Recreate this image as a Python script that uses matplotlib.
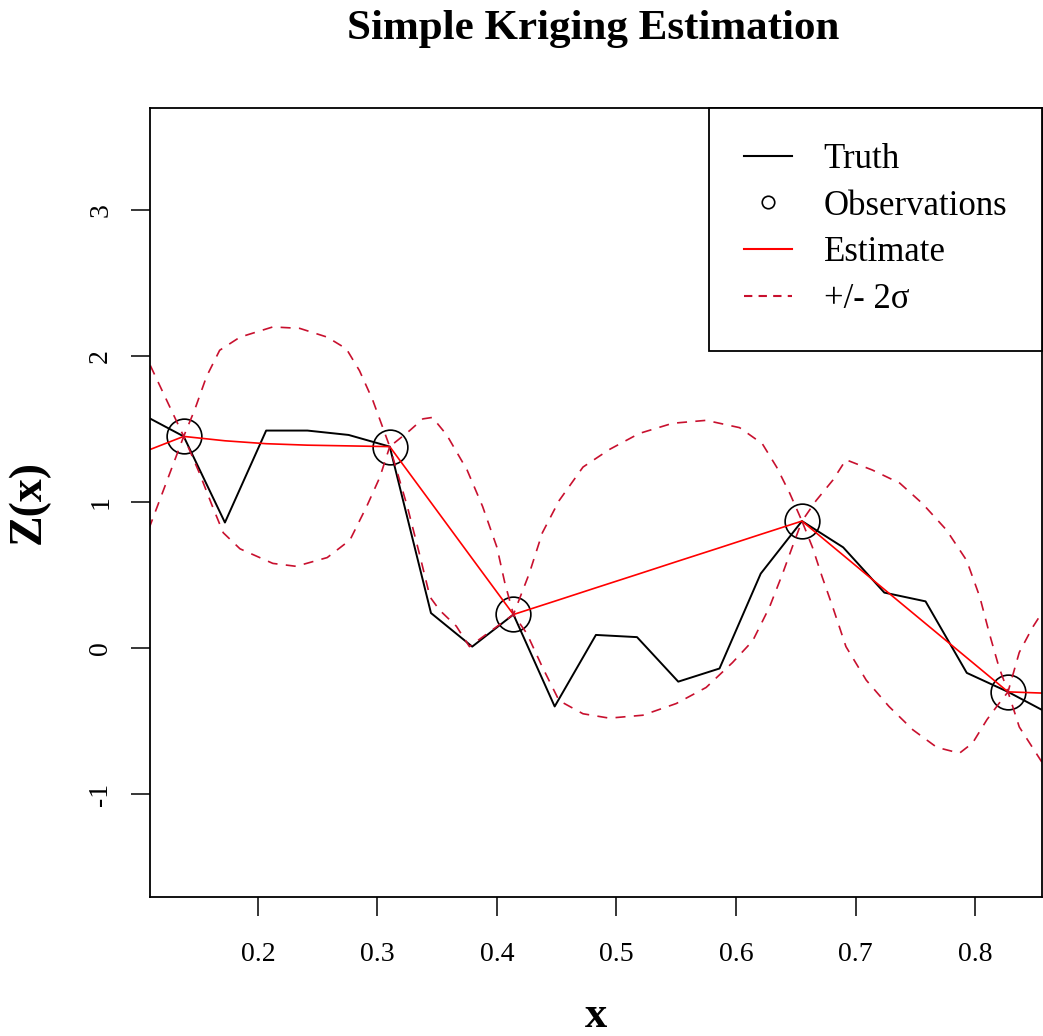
import matplotlib
matplotlib.use("Agg")
import matplotlib.pyplot as plt
from matplotlib.lines import Line2D

plt.rcParams['font.family'] = ['Liberation Serif', 'DejaVu Serif']

# grid where truth and estimate were evaluated
grid_x = [0.1034, 0.1379, 0.1724, 0.2069, 0.2414, 0.2759, 0.3103, 0.3448, 0.3793, 0.4138,
          0.4483, 0.4828, 0.5172, 0.5517, 0.5862, 0.6207, 0.6552, 0.6897, 0.7241, 0.7586,
          0.7931, 0.8276, 0.8621]
truth = [1.60, 1.45, 0.86, 1.49, 1.49, 1.46, 1.38, 0.24, 0.01, 0.23,
         -0.40, 0.09, 0.075, -0.23, -0.14, 0.51, 0.87, 0.69, 0.38, 0.32,
         -0.17, -0.30, -0.45]
estimate = [1.34, 1.45, 1.42, 1.40, 1.39, 1.385, 1.38, 0.997, 0.613, 0.23,
            0.321, 0.413, 0.504, 0.596, 0.687, 0.779, 0.87, 0.636, 0.402, 0.168,
            -0.066, -0.30, -0.31]

# observations
obs_x = [0.1379, 0.3103, 0.4138, 0.6552, 0.8276]
obs_y = [1.45, 1.38, 0.23, 0.87, -0.30]

# estimate +/- 2 sigma
upper_x = [0.1034, 0.1379, 0.147, 0.157, 0.168, 0.185, 0.2125, 0.235, 0.258, 0.274,
           0.285, 0.296, 0.3103, 0.327, 0.338, 0.346, 0.358, 0.375, 0.388, 0.400,
           0.4065, 0.4138, 0.427, 0.438, 0.452, 0.472, 0.494, 0.519, 0.547, 0.575,
           0.603, 0.622, 0.634, 0.645, 0.6552, 0.667, 0.681, 0.692, 0.714, 0.737,
           0.756, 0.776, 0.793, 0.804, 0.812, 0.820, 0.8276, 0.837, 0.848, 0.8621]
upper_y = [2.05, 1.45, 1.63, 1.86, 2.04, 2.13, 2.20, 2.19, 2.13, 2.05,
           1.90, 1.70, 1.38, 1.49, 1.57, 1.58, 1.46, 1.22, 0.97, 0.69,
           0.45, 0.23, 0.51, 0.79, 1.01, 1.24, 1.36, 1.47, 1.54, 1.56,
           1.51, 1.40, 1.24, 1.06, 0.87, 1.01, 1.15, 1.29, 1.22, 1.13,
           0.99, 0.81, 0.60, 0.35, 0.10, -0.13, -0.30, -0.03, 0.14, 0.32]
lower_x = [0.1034, 0.1379, 0.151, 0.162, 0.171, 0.185, 0.2125, 0.232, 0.258, 0.277,
           0.291, 0.302, 0.3103, 0.325, 0.335, 0.344, 0.352, 0.366, 0.377, 0.4138,
           0.425, 0.438, 0.452, 0.472, 0.494, 0.522, 0.550, 0.575, 0.597, 0.614,
           0.628, 0.639, 0.647, 0.6552, 0.664, 0.672, 0.681, 0.692, 0.709, 0.728,
           0.748, 0.768, 0.787, 0.798, 0.810, 0.820, 0.8276, 0.837, 0.848, 0.8621]
lower_y = [0.70, 1.45, 1.20, 0.97, 0.79, 0.68, 0.58, 0.56, 0.62, 0.74,
           0.97, 1.17, 1.38, 0.97, 0.65, 0.35, 0.26, 0.15, 0.01, 0.23,
           0.10, -0.13, -0.36, -0.45, -0.48, -0.46, -0.38, -0.27, -0.10, 0.05,
           0.28, 0.51, 0.69, 0.87, 0.69, 0.49, 0.28, 0.01, -0.22, -0.40,
           -0.56, -0.68, -0.72, -0.65, -0.49, -0.38, -0.30, -0.54, -0.68, -0.86]

x_ticks = [0.2, 0.3, 0.4, 0.5, 0.6, 0.7, 0.8]
y_ticks = [-1, 0, 1, 2, 3]

fig = plt.figure(figsize=(10.43, 10.36), dpi=100)
ax = fig.add_axes([0.1438, 0.1342, 0.8552, 0.7616])

ax.plot(grid_x, truth, color='black', lw=1.4)
ax.plot(obs_x, obs_y, 'o', ms=25, mfc='none', mec='black', mew=1.2)
ax.plot(grid_x, estimate, color='red', lw=1.2)
ax.plot(upper_x, upper_y, color='#c8102e', lw=1.2, dashes=(6, 5))
ax.plot(lower_x, lower_y, color='#c8102e', lw=1.2, dashes=(6, 5))

ax.set_xlim(0.1097, 0.856)
ax.set_ylim(-1.705, 3.70)
ax.set_xticks(x_ticks)
ax.set_xticklabels([str(t) for t in x_ticks])
ax.set_yticks(y_ticks)
ax.set_yticklabels([str(t) for t in y_ticks], rotation=90, va='center')
ax.tick_params(length=13.5, width=1.1, labelsize=20, direction='out')
ax.tick_params(axis='x', pad=19)
ax.tick_params(axis='y', pad=13)
for s in ax.spines.values():
    s.set_linewidth(1.3)

ax.set_xlabel('x', fontsize=32, fontweight='bold', va='baseline')
ax.xaxis.set_label_coords(0.5, -0.165)
ax.set_ylabel('Z(x)', fontsize=33, fontweight='bold', va='center')
ax.yaxis.set_label_coords(-0.136, 0.5)

fig.text(0.5685, 0.962, 'Simple Kriging Estimation', fontsize=31, fontweight='bold',
         ha='center', va='baseline')

handles = [
    Line2D([], [], color='black', lw=1.5),
    Line2D([], [], ls='none', marker='o', ms=9, mfc='none', mec='black', mew=1.2),
    Line2D([], [], color='red', lw=1.5),
    Line2D([], [], color='#c8102e', lw=1.5, dashes=(4, 3)),
]
labels = ['Truth', 'Observations', 'Estimate', '+/- 2\u03c3']
leg = ax.legend(handles, labels, loc='upper right', bbox_to_anchor=(1, 1), borderaxespad=0,
                fancybox=False, edgecolor='black', framealpha=1, fontsize=25,
                handlelength=1.4, handletextpad=0.9, labelspacing=0.4, borderpad=1.0)
leg.get_frame().set_linewidth(1.3)

plt.savefig('out.png', dpi=100)
